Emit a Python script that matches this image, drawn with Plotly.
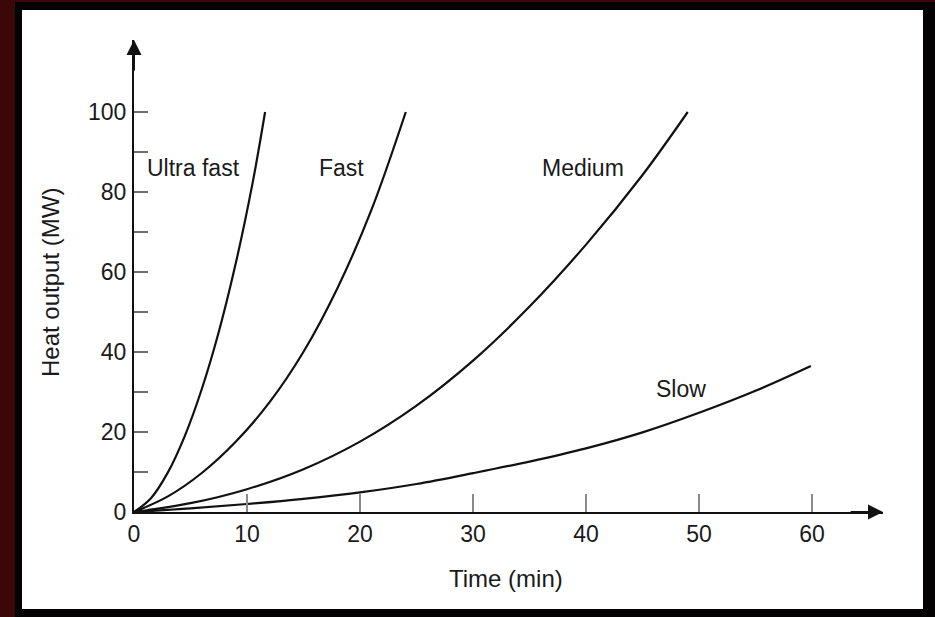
import plotly.graph_objects as go

# Heat release curves for four fire growth rates (time in min, heat output in MW)
ultra_t = [0, 1.5, 3.0, 4.5, 6.0, 7.5, 9.0, 10.5, 11.6]
ultra_q = [0, 3.45, 9.9, 19.05, 30.75, 45.0, 62.1, 82.35, 100]

fast_t = [0, 3, 6, 9, 12, 15, 18, 21, 24.05]
fast_q = [0, 3.9, 9.75, 17.55, 27.45, 40.05, 55.95, 75.45, 100]

medium_t = [0, 5, 10, 15, 20, 25, 30, 35, 40, 45, 49.0]
medium_q = [0, 2.2, 5.7, 10.7, 17.6, 26.6, 37.85, 51.35, 66.85, 84.25, 100]

slow_t = [0, 5, 10, 15, 20, 25, 30, 35, 40, 45, 50, 55, 59.9]
slow_q = [0, 0.9, 2.0, 3.3, 4.9, 7.0, 9.7, 12.6, 15.9, 19.9, 24.8, 30.3, 36.5]

curve_names = ["Ultra fast", "Fast", "Medium", "Slow"]
label_t = [5.27, 18.4, 39.7, 48.4]
label_q = [85.9, 85.9, 85.9, 30.7]

x_ticks = [0, 10, 20, 30, 40, 50, 60]
y_ticks = [0, 10, 20, 30, 40, 50, 60, 70, 80, 90, 100]
y_tick_text = ["0", "", "20", "", "40", "", "60", "", "80", "", "100"]

W, H = 935, 617
L, R, T, B = 134, 52, 40, 105
PW, PH = W - L - R, H - T - B
X_MAX = 66.28
Y_MAX = 118.0

FONT = "Liberation Sans, Arial, Helvetica, sans-serif"
INK = "#1a1a1a"


def px(xp):
    return (xp - L) / PW


def py(yp):
    return (H - B - yp) / PH


fig = go.Figure()
for t, q, name in zip([ultra_t, fast_t, medium_t, slow_t],
                      [ultra_q, fast_q, medium_q, slow_q], curve_names):
    fig.add_trace(go.Scatter(
        x=t, y=q, mode="lines", name=name,
        line=dict(color="#111111", width=2.2, shape="spline", smoothing=1.0),
        cliponaxis=False, showlegend=False, hoverinfo="skip",
    ))

annotations = []
for name, t, q in zip(curve_names, label_t, label_q):
    annotations.append(dict(
        x=t, y=q, xref="x", yref="y", text=name, showarrow=False,
        xanchor="center", yanchor="middle",
        font=dict(family=FONT, size=23, color=INK),
    ))

# axis titles
annotations.append(dict(
    x=px(50), y=py(283), xref="paper", yref="paper", text="Heat output (MW)",
    textangle=-90, showarrow=False, xanchor="center", yanchor="middle",
    font=dict(family=FONT, size=24, color=INK),
))
annotations.append(dict(
    x=px(506), y=py(578), xref="paper", yref="paper", text="Time (min)",
    showarrow=False, xanchor="center", yanchor="middle",
    font=dict(family=FONT, size=24, color=INK),
))

# arrowheads at the ends of both axes
annotations.append(dict(
    x=X_MAX, y=0, ax=X_MAX - 3, ay=0, xref="x", yref="y", axref="x", ayref="y",
    text="", showarrow=True, arrowhead=2, arrowsize=1.5, arrowwidth=2,
    arrowcolor="#111111",
))
annotations.append(dict(
    x=0, y=Y_MAX, ax=0, ay=Y_MAX - 8, xref="x", yref="y", axref="x", ayref="y",
    text="", showarrow=True, arrowhead=2, arrowsize=1.5, arrowwidth=2,
    arrowcolor="#111111",
))

shapes = [
    # dark frame and white panel behind the chart
    dict(type="rect", xref="paper", yref="paper", layer="below",
         x0=px(15), x1=px(W + 5), y0=py(H + 5), y1=py(2),
         fillcolor="#050203", line=dict(width=0)),
    dict(type="rect", xref="paper", yref="paper", layer="below",
         x0=px(22), x1=px(923), y0=py(609), y1=py(10),
         fillcolor="#ffffff", line=dict(width=0)),
]

fig.update_layout(
    width=W, height=H,
    margin=dict(l=L, r=R, t=T, b=B, pad=0),
    paper_bgcolor="#3c0709",
    plot_bgcolor="rgba(0,0,0,0)",
    annotations=annotations,
    shapes=shapes,
    xaxis=dict(
        range=[0, X_MAX], showgrid=False, zeroline=False,
        showline=True, linecolor="#111111", linewidth=2,
        tickvals=x_ticks, ticktext=[str(v) for v in x_ticks],
        ticks="inside", ticklen=18, tickwidth=2, tickcolor="#8a8a8a",
        ticklabelstandoff=0,
        tickfont=dict(family=FONT, size=23, color=INK),
    ),
    yaxis=dict(
        range=[0, Y_MAX], showgrid=False, zeroline=False,
        showline=True, linecolor="#111111", linewidth=2,
        tickvals=y_ticks, ticktext=y_tick_text,
        ticks="inside", ticklen=14, tickwidth=2, tickcolor="#707070",
        ticklabelstandoff=1,
        tickfont=dict(family=FONT, size=23, color=INK),
    ),
)

fig.write_html("out.html")
